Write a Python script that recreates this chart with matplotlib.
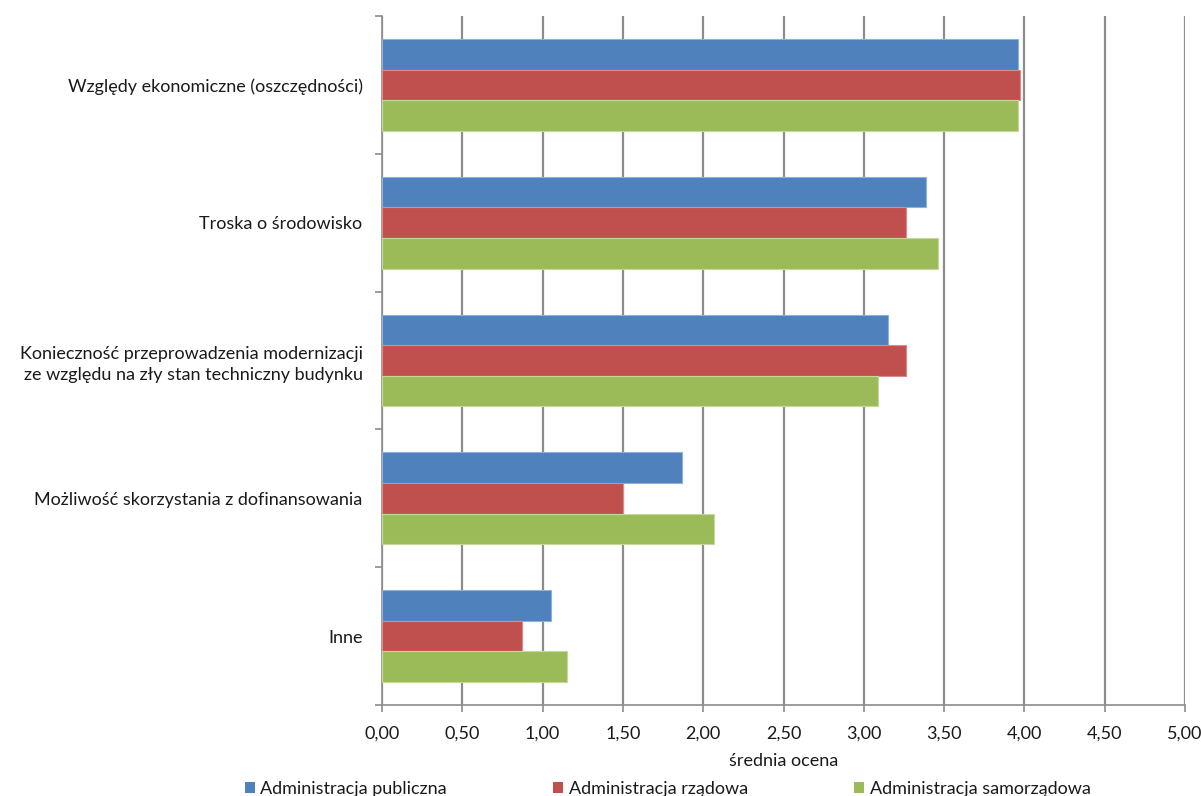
import matplotlib.pyplot as plt
import numpy as np
from matplotlib.patches import Patch

plt.rcParams['font.family'] = ['Lato', 'DejaVu Sans']

categories = [
    'Względy ekonomiczne (oszczędności)',
    'Troska o środowisko',
    'Konieczność przeprowadzenia modernizacji\nze względu na zły stan techniczny budynku',
    'Możliwość skorzystania z dofinansowania',
    'Inne',
]
series_names = ['Administracja publiczna', 'Administracja rządowa', 'Administracja samorządowa']
publiczna = [3.96, 3.39, 3.15, 1.87, 1.05]
rzadowa = [3.97, 3.26, 3.26, 1.50, 0.87]
samorzadowa = [3.96, 3.46, 3.09, 2.07, 1.15]
xticks = [0, 0.5, 1, 1.5, 2, 2.5, 3, 3.5, 4, 4.5, 5]

colors = ['#4F81BD', '#C0504D', '#9BBB59']
edges = ['#8DB0DC', '#DA8C8A', '#C3D89A']
fs = 13

fig = plt.figure(figsize=(12.01, 7.96), dpi=100)
ax = fig.add_axes([382 / 1201, 1 - 705 / 796, 803 / 1201, 689 / 796])

n = len(categories)
y = np.arange(n)[::-1]  # top category at the top
bw = 0.222
for i, vals in enumerate([publiczna, rzadowa, samorzadowa]):
    ax.barh(y + (1 - i) * bw, vals, height=bw, color=colors[i],
            edgecolor=edges[i], linewidth=0.8, zorder=3)

ax.set_xlim(0, 5)
ax.set_ylim(-0.5, n - 0.5)
ax.set_xticks(xticks)
ax.set_xticklabels([f'{v:.2f}'.replace('.', ',') for v in xticks], fontsize=fs)
ax.xaxis.grid(True, color='#8C8C8C', linewidth=1.6, zorder=0)
ax.set_axisbelow(True)

ax.set_yticks(y)
ax.set_yticklabels(categories, fontsize=fs, linespacing=1.35, color='#1a1a1a')
ax.tick_params(axis='y', length=0, pad=14)
# category separator ticks
ax.set_yticks(np.arange(-0.5, n, 1.0), minor=True)
ax.tick_params(axis='y', which='minor', length=5, color='#8C8C8C', width=1.2)
ax.tick_params(axis='x', length=5, color='#8C8C8C', width=1.2, pad=10,
               labelcolor='#1a1a1a')

for s in ['top', 'right']:
    ax.spines[s].set_visible(False)
for s in ['left', 'bottom']:
    ax.spines[s].set_color('#8C8C8C')
    ax.spines[s].set_linewidth(1.2)

ax.set_xlabel('średnia ocena', fontsize=fs, labelpad=8, color='#1a1a1a')

handles = [Patch(facecolor=c, edgecolor='none') for c in colors]
fig.legend(handles, series_names, loc='lower center', ncol=3,
           bbox_to_anchor=(0.556, -0.022), frameon=False, fontsize=fs,
           handlelength=0.55, handleheight=0.55, handletextpad=0.3,
           columnspacing=5.9, labelcolor='#1a1a1a')

fig.savefig('out.png', dpi=100, facecolor='white')
